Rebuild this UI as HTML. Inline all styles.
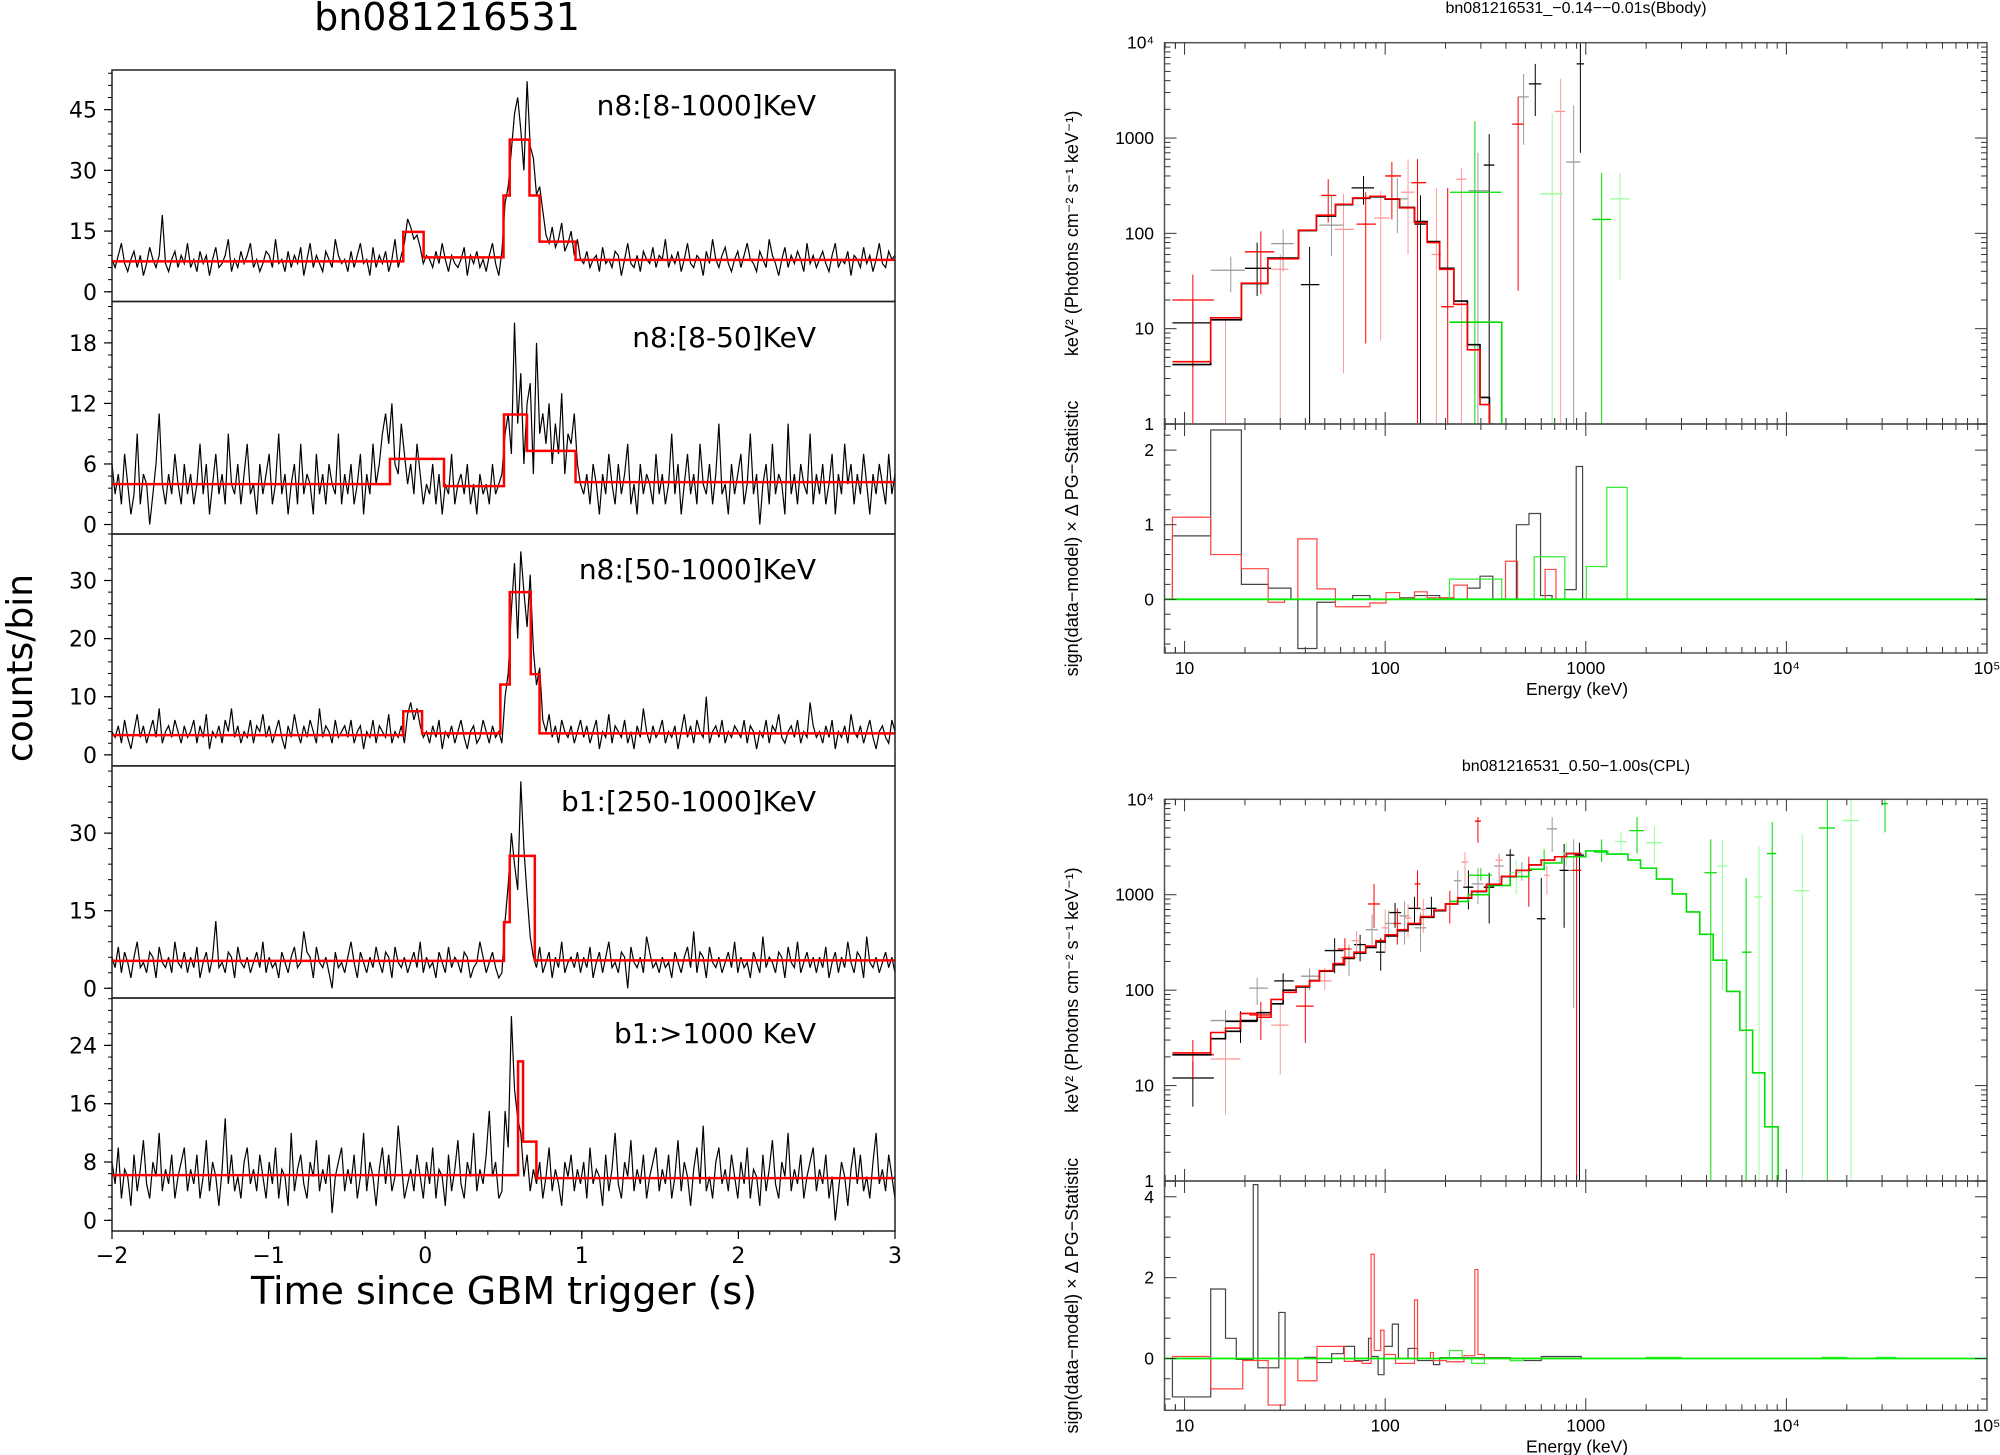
<!DOCTYPE html>
<html><head><meta charset="utf-8"><title>bn081216531</title>
<style>
html,body{margin:0;padding:0;background:#fff;}
svg{display:block;}
.lt{font-family:"DejaVu Sans","Liberation Sans",sans-serif;fill:#000;}
.rt{font-family:"Liberation Sans","DejaVu Sans",sans-serif;fill:#000;}
</style></head>
<body>
<svg id="chart" width="2000" height="1455" viewBox="0 0 2000 1455" xmlns="http://www.w3.org/2000/svg">
<rect x="0" y="0" width="2000" height="1455" fill="#fff"/>
<text class="lt" x="447" y="30" font-size="38" text-anchor="middle">bn081216531</text>
<text class="lt" x="0" y="0" font-size="36" text-anchor="middle" transform="translate(32,668) rotate(-90)">counts/bin</text>
<text class="lt" x="504" y="1304" font-size="38" text-anchor="middle">Time since GBM trigger (s)</text>
<text class="rt" x="1576" y="13" font-size="16" text-anchor="middle">bn081216531_−0.14−−0.01s(Bbody)</text>
<text class="rt" x="1576" y="771" font-size="16" text-anchor="middle">bn081216531_0.50−1.00s(CPL)</text>
</svg>
<script>
// ---------- light curve data (bins of 5/249 s from -2 to 3) ----------
const lcN8All=[8,6,9,12,7,5,8,10,6,9,4,7,11,8,6,9,19,7,5,8,10,6,9,7,12,
6,8,5,10,7,9,4,8,11,6,7,9,13,5,8,6,10,7,9,12,6,8,5,7,10,
9,6,13,7,8,5,10,6,9,7,11,4,8,12,6,9,7,5,10,8,6,13,9,7,8,
5,10,6,9,12,7,8,4,11,6,9,7,10,5,8,13,6,9,12,18,16,13,14,11,7,
9,8,6,10,7,12,8,5,9,7,6,8,11,4,9,7,10,6,8,5,9,12,7,4,10,
22,26,35,44,48,40,30,52,36,33,24,26,20,14,12,16,11,13,17,10,12,15,9,13,8,
7,10,6,8,9,5,11,7,8,6,10,9,4,8,12,7,6,9,5,10,8,7,11,6,9,
8,13,6,9,7,10,5,8,12,7,6,9,8,4,10,7,13,8,6,9,11,7,5,8,10,
6,9,12,8,7,5,10,8,6,13,9,7,4,8,11,6,9,7,10,8,5,12,7,9,6,
8,10,7,5,9,12,6,8,7,10,4,9,8,6,11,7,9,5,8,12,7,6,10,8,9];
const lcN8Low=[6,3,5,2,7,4,1,3,9,2,5,4,0,3,6,11,4,2,5,3,7,4,2,6,3,
5,2,4,8,3,6,1,4,7,3,5,2,9,4,3,6,2,5,8,3,4,1,6,3,5,
7,2,4,9,3,5,1,4,6,2,8,3,5,4,1,7,3,5,2,6,4,3,9,2,5,
3,6,2,4,7,1,5,3,8,4,6,9,11,8,12,6,5,10,7,4,6,3,8,5,2,
4,3,6,2,5,1,4,3,7,2,4,5,3,6,2,4,1,5,3,4,2,6,3,4,5,
9,11,7,20,10,15,6,12,14,5,18,9,11,8,12,6,10,7,13,5,9,8,11,6,4,
3,5,2,6,4,1,5,3,7,4,2,6,3,5,8,2,4,1,6,3,5,4,2,7,3,
5,2,4,9,3,6,1,4,7,3,5,2,8,4,3,6,2,5,10,3,4,1,6,3,5,
7,2,4,9,3,5,0,4,6,2,8,3,5,4,1,10,3,5,2,6,4,3,9,2,5,
3,6,2,4,7,1,5,3,8,4,6,2,5,3,7,4,1,5,3,6,4,2,7,3,5];
const lcN8High=[4,3,5,2,6,3,1,4,7,3,5,2,4,6,3,8,2,4,5,3,6,4,2,5,3,
4,6,2,5,3,7,1,4,3,5,2,6,4,8,3,5,2,4,3,6,2,5,4,7,3,
5,2,4,6,3,1,5,3,7,4,2,5,3,6,4,2,8,3,5,4,2,6,3,4,5,
3,6,2,4,5,1,4,3,6,2,5,4,3,7,2,4,3,5,2,7,9,6,8,5,3,
4,2,5,3,6,1,4,3,5,2,4,6,3,1,4,5,2,3,6,4,2,5,3,4,2,
10,14,25,33,20,35,28,22,31,18,12,15,6,4,7,3,5,2,6,4,3,5,2,4,6,
3,5,2,4,6,1,4,3,7,2,5,4,3,6,2,4,1,5,3,8,4,2,5,3,4,
6,2,4,3,5,1,4,7,3,5,2,6,4,3,10,2,4,5,3,6,2,4,3,5,4,
3,6,2,5,4,1,4,3,6,2,5,4,7,3,2,4,5,3,6,2,4,3,9,5,3,
4,2,5,3,6,1,4,3,5,2,7,4,3,5,2,4,6,3,1,4,5,3,2,6,4];
const lcB1Mid=[6,4,8,3,7,5,2,6,9,4,5,3,7,6,2,8,5,4,6,3,9,5,4,7,3,
6,4,8,2,5,7,3,6,13,4,5,3,7,6,2,8,5,4,6,3,5,7,4,9,3,
6,4,5,2,7,5,3,6,8,4,5,11,7,6,2,8,5,4,6,3,0,7,4,5,3,
6,9,5,2,7,5,3,6,4,8,5,3,7,6,2,8,5,4,6,3,5,7,4,9,3,
6,4,5,2,7,5,3,8,4,6,5,3,7,6,2,4,5,9,6,3,5,7,4,2,3,
13,20,30,24,19,40,27,18,10,6,4,8,3,5,7,2,6,4,9,3,5,6,4,7,3,
6,4,8,2,5,7,3,6,9,4,5,3,7,6,0,8,5,4,6,3,10,7,4,5,3,
6,4,5,2,7,5,3,6,8,4,11,3,7,6,2,8,5,4,6,3,5,7,4,9,3,
6,4,5,2,7,5,3,10,4,6,5,3,7,6,2,8,5,4,9,3,5,7,4,6,3,
6,4,8,2,5,7,3,6,4,9,5,3,7,6,2,10,5,4,6,3,5,7,4,6,3];
const lcB1High=[8,5,10,3,7,6,2,9,4,7,11,5,3,8,6,12,4,7,5,9,3,6,8,10,4,
7,5,9,3,6,11,4,8,6,2,7,14,5,9,4,6,3,8,10,5,7,4,9,6,3,
8,5,10,3,7,6,2,12,4,7,9,5,3,8,6,11,4,7,5,9,1,6,8,10,4,
7,5,9,3,6,12,4,8,6,2,7,10,5,9,4,6,13,8,3,5,7,4,9,6,3,
8,5,10,3,7,6,2,9,4,7,11,5,3,8,6,12,4,7,5,9,15,6,8,3,4,
15,10,28,18,14,12,6,9,4,7,5,8,3,6,10,4,7,5,2,8,6,9,4,7,5,
8,3,10,5,7,6,2,9,4,7,12,5,3,8,6,11,4,7,5,9,3,6,8,10,4,
7,5,9,3,6,11,4,8,6,2,7,10,5,13,4,6,3,8,10,5,7,4,9,6,3,
8,5,10,3,7,6,2,9,4,7,11,5,3,8,6,12,4,7,5,9,3,6,8,10,4,
7,5,9,3,6,0,4,8,6,2,7,10,5,9,4,6,3,8,12,5,7,4,9,6,3];
// Bayesian-block models
const blkEdges1=[-2,-0.14,-0.01,0.5,0.54,0.666,0.73,0.96,3];
const blkVals1=[7.5,14.8,8.5,23.8,37.6,23.8,12.4,7.9];
const blkEdges2=[-2,-0.225,0.12,0.503,0.65,0.96,3];
const blkVals2=[4.0,6.5,3.8,10.9,7.3,4.2];
const blkEdges3=[-2,-0.14,-0.02,0.48,0.54,0.674,0.73,3];
const blkVals3=[3.4,7.5,3.7,12.1,28,13.9,3.7];
const blkEdges4=[-2,0.503,0.54,0.70,3];
const blkVals4=[5.3,12.8,25.6,5.4];
const blkEdges5=[-2,0.593,0.625,0.71,3];
const blkVals5=[6.2,21.8,10.8,5.8];
const panelLabels=["n8:[8-1000]KeV","n8:[8-50]KeV","n8:[50-1000]KeV","b1:[250-1000]KeV","b1:>1000 KeV"];
const yTicks1=[0,15,30,45], yTicks2=[0,6,12,18], yTicks3=[0,10,20,30], yTicks4=[0,15,30], yTicks5=[0,8,16,24];
const xTickLabels=["−2","−1","0","1","2","3"];
const xTickVals=[-2,-1,0,1,2,3];

// ---------- spectrum A (Bbody) ----------
const specAModelEdges=[8.7,13.5,19.2,26,37,45.4,56.5,68.9,83.9,100,118,140,162,187,220,257,297,331,349];
const specAModelBlack=[4.2,12.4,29.7,55,107,152,200,233,242,228,187,133,82,43,19.5,6.8,1.9,1.0];
const specAModelRed=[4.5,13,30,54,108,155,202,235,245,230,185,130,80,42,18,6,1.6,1.0];
const specAModelGreenEdges=[209,381];
const specAModelGreen=[11.7];
const specADataBlack=[[11,8.7,13.5,11.5,3.9,19],[17,13.5,20,41,24,57],[23,20,27,43,22,80],[31,27,35,78,40,110],[42,38,47,29,0.5,72],[54,47,62,122,58,250],[78,68,88,300,200,400],[115,100,130,230,100,380],[150,140,160,125,0.5,250],[290,260,330,280,0.5,700],[330,310,350,520,0.5,1100],[490,460,520,2700,850,4700],[560,520,600,3700,1700,6000],[870,800,940,560,0.5,2200],[940,900,980,6000,700,10000]];
const specADataRed=[[11,8.7,14,20,0.5,37],[16,13.5,19,13,0.5,13],[24,20,28,64,23,105],[30,27,33,42,0.5,60],[52,48,57,250,130,370],[62,56,70,110,3.4,260],[80,72,90,125,7,270],[95,88,105,145,7.5,280],[108,100,120,400,140,560],[130,120,140,270,60,600],[145,135,160,340,0.5,600],[180,170,190,60,0.5,300],[205,190,220,17,0.5,300],[240,225,255,370,0.5,480],[460,430,490,1400,25,2700],[750,700,790,1900,0.5,4200]];
const specADataGreen=[[280,210,380,270,0.5,1500],[680,590,770,260,0.5,1800],[1200,1080,1340,140,0.5,430],[1480,1320,1650,230,33,430]];
const resABlack=[[8.7,13.5,0.85],[13.5,19.2,2.27],[19.2,26.1,0.2],[26.1,33.9,0.15],[36.7,45.7,-0.66],[45.7,56.5,-0.04],[56.5,68.9,0],[68.9,83.9,0.05],[83.9,118,0],[118,140,0.02],[140,187,0.05],[187,220,0.02],[220,257,0],[257,297,0.15],[297,344,0.31],[344,451,0],[451,521,1.0],[521,595,1.15],[595,679,0.05],[679,786,0],[786,896,0.13],[896,964,1.78]];
const resARed=[[8.7,13.5,1.1],[13.5,19.2,0.6],[19.2,26.1,0.41],[26.1,31.5,-0.04],[36.7,45.7,0.81],[45.7,56.5,0.14],[56.5,83.9,-0.1],[83.9,101,-0.05],[101,118,0.09],[118,140,0.01],[140,162,0.1],[162,220,0.02],[220,257,0.19],[257,398,0],[398,457,0.51],[457,627,0],[627,710,0.4],[710,786,0]];
const resAGreen=[[209,381,0.27],[553,786,0.57],[1007,1273,0.44],[1273,1607,1.5]];

// ---------- spectrum B (CPL) ----------
const specBModelEdges=[8.7,13.5,16,19,23,27,31,36,42,47,55,62,70,80,90,100,115,130,150,175,200,230,270,320,380,450,520,600,700,800,950];
const specBModelBlack=[21,31,37,48,58,72,100,108,126,158,185,215,245,280,320,370,420,490,580,680,800,920,1080,1280,1550,1800,2050,2300,2500,2700];
const specBModelRed=[22,36,40,57,52,80,95,110,125,160,190,220,250,290,330,380,430,500,590,690,800,930,1090,1290,1560,1800,2060,2300,2500,2700];
const specBModelGreenEdges=[210,260,330,420,520,620,760,1000,1273,1622,1875,2250,2700,3175,3700,4315,5035,5865,6790,7800,9100];
const specBModelGreen=[850,1000,1250,1550,1850,2150,2500,2880,2670,2310,1900,1460,1020,660,385,206,97,38,13.6,3.7];
const specBDataBlack=[[11,8.7,14,12,6,18],[16,13.5,19,48,30,62],[19,16,23,47,28,60],[23,21,26,105,70,135],[31,28,35,125,80,150],[42,38,47,140,100,170],[56,50,62,260,150,350],[66,60,72,220,140,300],[75,70,80,300,200,380],[86,80,92,430,300,620],[95,90,100,250,160,350],[104,100,110,500,350,680],[112,105,120,650,450,820],[125,118,132,600,300,850],[140,130,150,720,500,950],[150,140,160,450,250,650],[170,160,180,720,600,950],[230,220,240,1400,900,1800],[260,245,275,1200,700,1800],[290,270,310,1300,800,1900],[330,310,350,1200,500,1700],[370,350,390,2000,1300,2600],[420,400,440,2600,1600,3000],[480,450,510,1800,1400,2200],[600,570,630,560,0.5,1500],[680,640,720,4900,2800,6500],[780,740,820,1800,450,3400],[870,820,920,1800,65,3800],[930,880,980,2600,0.5,3500]];
const specBDataRed=[[11,8.7,14,21,12,30],[16,13.5,19,19,5,30],[24,21,27,55,30,75],[30,27,33,43,13,70],[40,36,44,68,28,110],[50,46,54,125,100,170],[63,58,68,270,180,350],[72,68,76,330,230,420],[88,82,94,800,450,1300],[100,96,104,450,250,700],[115,110,120,500,300,720],[130,125,135,570,360,800],[145,140,150,1300,700,1800],[155,150,160,700,400,900],[210,200,220,800,500,1100],[250,240,260,2200,1200,2800],[290,280,300,5900,3500,6500],[370,355,385,2300,1600,2700],[520,500,540,1800,750,2500],[640,620,660,1600,1000,2000],[900,850,950,1800,0.5,2600]];
const specBDataGreen=[[300,260,340,1600,1400,1900],[450,420,480,1700,1000,2300],[620,590,650,2300,1800,3000],[800,760,840,2700,2000,3500],[1200,1100,1300,2800,2200,3800],[1500,1400,1600,3600,2700,4600],[1800,1650,1950,4700,2700,6500],[2200,2000,2400,3500,2100,5200],[4200,3900,4500,1700,0.5,3800],[4800,4500,5100,2000,100,3800],[6300,6000,6700,250,0.5,1500],[7300,6900,7600,950,0.5,3200],[8500,8000,8900,2700,0.5,5800],[12000,11000,13000,1100,0.5,4400],[16000,14500,17500,5000,0.5,10000],[21000,19000,23000,6000,0.5,10000],[31000,30000,32000,9000,4500,10000]];
const resBBlack=[[8.7,13.5,-0.95],[13.5,16,1.72],[16,18.1,0.5],[18.1,22,-0.02],[22,23.2,4.3],[23.2,29.5,-0.23],[29.5,31.7,1.14],[39.8,45.7,0.03],[45.7,54.1,-0.1],[54.1,62,0.12],[62,70.4,0.3],[70.4,82.6,-0.05],[82.6,85.1,0.5],[85.1,92.2,0.05],[92.2,98.7,-0.4],[98.7,108.5,0.3],[108.5,116.4,0.85],[116.4,130,0],[130,145,0.25],[145,174,-0.05],[174,187,-0.15],[187,420,0.02],[420,600,-0.05],[600,950,0.05]];
const resBRed=[[8.7,13.5,0.05],[13.5,19.5,-0.75],[19.5,26.1,-0.05],[26.1,31.7,-1.15],[36.7,45.7,-0.55],[45.7,54.1,0.3],[54.1,62.6,0.3],[62.6,76.8,-0.07],[76.8,85.1,-0.12],[85.1,88.2,2.58],[88.2,95,0.2],[95,98.7,0.7],[98.7,112.6,0.1],[112.6,140,-0.12],[140,145,1.45],[145,168,0],[168,174,0.15],[174,202,-0.05],[202,247,-0.08],[247,280,0.07],[280,290,2.2],[290,312,0.1],[312,950,0]];
const resBGreen=[[209,242,0.2],[270,312,-0.12],[420,488,-0.05],[2000,3000,0.03],[15000,20000,0.03],[28000,35000,0.03]];
const energyTickLabels=["10","100","1000","10⁴","10⁵"];
const fluxTickLabels=["1","10","100","1000","10⁴"];

const NS="http://www.w3.org/2000/svg";
const svg=document.getElementById('chart');
function mk(tag,parent){const e=document.createElementNS(NS,tag);(parent||svg).appendChild(e);return e;}
function lin(d0,d1,r0,r1){return v=>r0+(v-d0)*(r1-r0)/(d1-d0);}
function line(p,x1,y1,x2,y2,c,w){const l=mk('line',p);l.setAttribute('x1',x1);l.setAttribute('y1',y1);l.setAttribute('x2',x2);l.setAttribute('y2',y2);l.setAttribute('stroke',c||'#000');l.setAttribute('stroke-width',w||1);return l;}

// ---------- left light curves ----------
const L=112,R=895;
const tops=[70,301.5,534,765.9,998], bots=[301.5,534,765.9,998,1231];
const yRanges=[[-2.4,54.8],[-0.94,22.1],[-1.9,38.0],[-1.88,43.0],[-1.46,30.5]];
const lcs=[lcN8All,lcN8Low,lcN8High,lcB1Mid,lcB1High];
const blkE=[blkEdges1,blkEdges2,blkEdges3,blkEdges4,blkEdges5];
const blkV=[blkVals1,blkVals2,blkVals3,blkVals4,blkVals5];
const yT=[yTicks1,yTicks2,yTicks3,yTicks4,yTicks5];
const xs=lin(-2,3,L,R);
for(let p=0;p<5;p++){
  const g=mk('g');
  
  
  const ys=lin(yRanges[p][0],yRanges[p][1],bots[p],tops[p]);
  const cp=mk('clipPath',g);cp.setAttribute('id','lc'+p);
  const cr=mk('rect',cp);cr.setAttribute('x',L);cr.setAttribute('y',tops[p]);cr.setAttribute('width',R-L);cr.setAttribute('height',bots[p]-tops[p]);
  const data=lcs[p];const n=data.length;
  let pts=[];
  for(let i=0;i<n;i++){const t=-2+i*5/(n-1);pts.push(xs(t).toFixed(1)+','+ys(data[i]).toFixed(1));}
  const pl=mk('polyline',g);
  
  
  pl.setAttribute('points',pts.join(' '));pl.setAttribute('fill','none');pl.setAttribute('stroke','#000');pl.setAttribute('stroke-width','1.2');pl.setAttribute('clip-path','url(#lc'+p+')');
  const E=blkE[p],V=blkV[p];
  let d='M'+xs(E[0])+','+ys(V[0]);
  for(let i=0;i<V.length;i++){ if(i>0) d+=' V'+ys(V[i]); d+=' H'+xs(E[i+1]); }
  const mp=mk('path',g);
  
  
  mp.setAttribute('d',d);mp.setAttribute('fill','none');mp.setAttribute('stroke','#f00');mp.setAttribute('stroke-width','2.5');
  const fr=mk('rect',g);
  
  
  fr.setAttribute('x',L);fr.setAttribute('y',tops[p]);fr.setAttribute('width',R-L);fr.setAttribute('height',bots[p]-tops[p]);fr.setAttribute('fill','none');fr.setAttribute('stroke','#222');fr.setAttribute('stroke-width','1.5');
  const tk=yT[p];const step=tk[1]-tk[0];
  for(let v=0;v<=yRanges[p][1];v+=step/5){const y=ys(v);if(y<tops[p])break;line(g,L-4,y,L,y,'#000',1);}
  tk.forEach(v=>{const y=ys(v);line(g,L-8,y,L,y,'#000',1.2);
    const t=mk('text',g);
    
    
    t.setAttribute('class','lt');t.setAttribute('x',97);t.setAttribute('y',y+8);t.setAttribute('font-size','22');t.setAttribute('text-anchor','end');t.textContent=v;});
  const lb=mk('text',g);
  
  
  lb.setAttribute('class','lt');lb.setAttribute('x',816);lb.setAttribute('y',[115,347,579,811,1043][p]);lb.setAttribute('font-size','28');lb.setAttribute('text-anchor','end');lb.textContent=panelLabels[p];
}
for(let t=-2;t<=3.001;t+=0.2){line(svg,xs(t),1231,xs(t),1235,'#000',1);}
xTickVals.forEach((v,i)=>{line(svg,xs(v),1231,xs(v),1239,'#000',1.2);
  const t=mk('text');
  
  
  t.setAttribute('class','lt');t.setAttribute('x',xs(v));t.setAttribute('y',1263);t.setAttribute('font-size','22');t.setAttribute('text-anchor','middle');t.textContent=xTickLabels[i];});

// ---------- right spectra ----------
const SL=1164.5,SR=1987;
const ex=lin(0.9,5,SL,SR);
function EX(e){return ex(Math.log10(e));}
function drawSpectrum(cfg){
  const g=mk('g');
  
  
  const fy=lin(0,4,cfg.mid,cfg.top);
  const FY=v=>fy(Math.log10(Math.max(v,0.5)));
  const ry=lin(cfg.rr[0],cfg.rr[1],cfg.bot,cfg.mid);
  const idT=cfg.id+'t', idR=cfg.id+'r';
  let cp=mk('clipPath',g);cp.setAttribute('id',idT);let r=mk('rect',cp);r.setAttribute('x',SL);r.setAttribute('y',cfg.top);r.setAttribute('width',SR-SL);r.setAttribute('height',cfg.mid-cfg.top);
  cp=mk('clipPath',g);cp.setAttribute('id',idR);r=mk('rect',cp);r.setAttribute('x',SL);r.setAttribute('y',cfg.mid);r.setAttribute('width',SR-SL);r.setAttribute('height',cfg.bot-cfg.mid);
  const gt=mk('g',g);gt.setAttribute('clip-path','url(#'+idT+')');
  const gr=mk('g',g);gr.setAttribute('clip-path','url(#'+idR+')');
  cfg.data.forEach(([arr,c,lc,nm])=>{
    arr.forEach((d,i)=>{
      const col=i%2?lc:c;
      const h=line(gt,EX(d[1]),FY(d[3]),EX(d[2]),FY(d[3]),col,1.3);
      
      
      const v=line(gt,EX(d[0]),FY(d[4]),EX(d[0]),FY(d[5]),col,1);
      
      
    });
  });
  cfg.models.forEach(([E,V,c,nm,drop])=>{
    let d='M'+EX(E[0])+','+(V[0]<=1?cfg.mid:FY(V[0]));
    for(let i=0;i<V.length;i++){ if(i>0)d+=' V'+FY(V[i]); d+=' H'+EX(E[i+1]); }
    if(drop) d+=' V'+(cfg.mid+2);
    const p=mk('path',gt);
    
    
    p.setAttribute('d',d);p.setAttribute('fill','none');p.setAttribute('stroke',c);p.setAttribute('stroke-width','1.6');
  });
  const y0=ry(0);
  cfg.res.forEach(([arr,c,nm])=>{
    let d='';let prev=null;
    arr.forEach(s=>{
      if(prev!==null && Math.abs(s[0]-prev)<1e-6){ d+=' V'+ry(s[2])+' H'+EX(s[1]); }
      else { if(prev!==null) d+=' V'+y0; d+=' M'+EX(s[0])+','+y0+' V'+ry(s[2])+' H'+EX(s[1]); }
      prev=s[1];
    });
    d+=' V'+y0;
    const p=mk('path',gr);
    
    
    p.setAttribute('d',d);p.setAttribute('fill','none');p.setAttribute('stroke',c);p.setAttribute('stroke-width','1.2');
  });
  const z=line(gr,SL,y0,SR,y0,'#0e0',1.8);
  
  
  [[cfg.top,cfg.mid],[cfg.mid,cfg.bot]].forEach(([a,b],k)=>{
    const f=mk('rect',g);
    
    
    f.setAttribute('x',SL);f.setAttribute('y',a);f.setAttribute('width',SR-SL);f.setAttribute('height',b-a);f.setAttribute('fill','none');f.setAttribute('stroke','#555');f.setAttribute('stroke-width','1.5');
    for(let dec=0;dec<=4;dec++){for(let m=1;m<10;m++){const e=Math.pow(10,1+dec)*m/10;const lx=EX(e);
      if(lx<SL||lx>SR)continue;const len=m===1?12:6;
      line(g,lx,a,lx,a+len,'#333',1);line(g,lx,b,lx,b-len,'#333',1);}}
    for(let m=8;m<10;m++){const lx=EX(m);line(g,lx,a,lx,a+6,'#333',1);line(g,lx,b,lx,b-6,'#333',1);}
  });
  for(let dec=0;dec<4;dec++){for(let m=1;m<10;m++){const y=fy(dec+Math.log10(m));const len=m===1?12:6;line(g,SL,y,SL+len,y,'#333',1);line(g,SR,y,SR-len,y,'#333',1);}}
  fluxTickLabels.forEach((s,i)=>{const t=mk('text',g);
    
    
    t.setAttribute('class','rt');t.setAttribute('x',1154);t.setAttribute('y',fy(i)+6);t.setAttribute('font-size','17.5');t.setAttribute('text-anchor','end');t.textContent=s;});
  for(let v=Math.ceil(cfg.rr[0]/cfg.rminor)*cfg.rminor;v<=cfg.rr[1];v+=cfg.rminor){const y=ry(v);const maj=Math.abs(v/cfg.rmajor-Math.round(v/cfg.rmajor))<1e-6;const len=maj?12:6;line(g,SL,y,SL+len,y,'#333',1);line(g,SR,y,SR-len,y,'#333',1);
    if(maj){const t=mk('text',g);
      
      
      t.setAttribute('class','rt');t.setAttribute('x',1154);t.setAttribute('y',y+6);t.setAttribute('font-size','17.5');t.setAttribute('text-anchor','end');t.textContent=Math.round(v);}}
  energyTickLabels.forEach((s,i)=>{const t=mk('text',g);
    
    
    t.setAttribute('class','rt');t.setAttribute('x',ex(1+i));t.setAttribute('y',cfg.bot+21);t.setAttribute('font-size','17.5');t.setAttribute('text-anchor','middle');t.textContent=s;});
  let t=mk('text',g);
  
  
  t.setAttribute('class','rt');t.setAttribute('x',1577);t.setAttribute('y',cfg.bot+42);t.setAttribute('font-size','17.5');t.setAttribute('text-anchor','middle');t.textContent='Energy (keV)';
  t=mk('text',g);
  
  
  t.setAttribute('class','rt');t.setAttribute('font-size','18');t.setAttribute('text-anchor','middle');t.setAttribute('transform','translate(1078,'+((cfg.top+cfg.mid)/2)+') rotate(-90)');t.textContent='keV² (Photons cm⁻² s⁻¹ keV⁻¹)';
  t=mk('text',g);
  
  
  t.setAttribute('class','rt');t.setAttribute('font-size','18');t.setAttribute('text-anchor','middle');t.setAttribute('transform','translate(1078,'+((cfg.mid+cfg.bot)/2)+') rotate(-90)');t.textContent='sign(data−model) × Δ PG−Statistic';
}
drawSpectrum({name:'spectrum-bbody',id:'sa',top:42.7,mid:424,bot:653,rr:[-0.72,2.35],rmajor:1,rminor:0.2,
  data:[[specADataBlack,'#000','#999','black-data'],[specADataRed,'#f00','#f99','red-data'],[specADataGreen,'#0d0','#9f9','green-data']],
  models:[[specAModelGreenEdges,specAModelGreen,'#0d0','green-model',true],[specAModelEdges,specAModelBlack,'#000','black-model',true],[specAModelEdges,specAModelRed,'#f00','red-model',true]],
  res:[[resABlack,'#444','black-residual'],[resARed,'#f44','red-residual'],[resAGreen,'#3e3','green-residual']]});
drawSpectrum({name:'spectrum-cpl',id:'sb',top:799.3,mid:1181,bot:1410.3,rr:[-1.28,4.39],rmajor:2,rminor:0.5,
  data:[[specBDataBlack,'#000','#999','black-data'],[specBDataRed,'#f00','#f99','red-data'],[specBDataGreen,'#0d0','#9f9','green-data']],
  models:[[specBModelGreenEdges,specBModelGreen,'#0d0','green-model',true],[specBModelEdges,specBModelBlack,'#000','black-model',false],[specBModelEdges,specBModelRed,'#f00','red-model',false]],
  res:[[resBBlack,'#444','black-residual'],[resBRed,'#f44','red-residual'],[resBGreen,'#3e3','green-residual']]});
</script>
</body></html>
